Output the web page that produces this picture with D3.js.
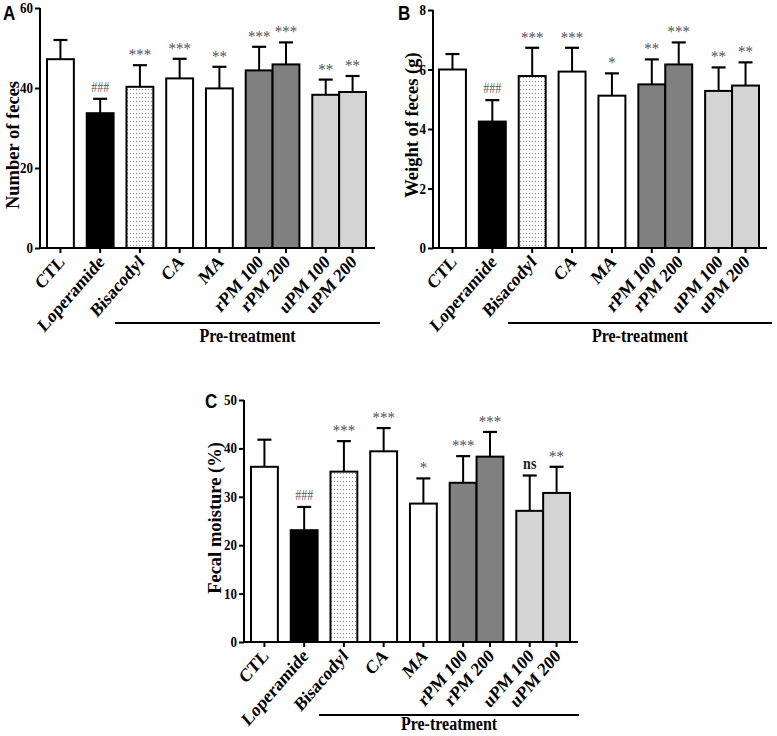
<!DOCTYPE html>
<html><head><meta charset="utf-8">
<script src="https://cdn.jsdelivr.net/npm/d3@7"></script>
<style>body{margin:0;background:#fff}</style>
</head><body><svg id="c" width="777" height="736"></svg>
<script>
// ---------- data ----------
const categories = ["CTL","Loperamide","Bisacodyl","CA","MA","rPM 100","rPM 200","uPM 100","uPM 200"];
const groupIndex = [0,1,2,3,4,5,5,6,6];

const feceNumber     = [47.2,33.7,40.3,42.4,39.9,44.4,45.9,38.3,39.0];
const feceNumberErr  = [4.8,3.6,5.4,4.9,5.4,5.9,5.5,3.8,4.0];
const feceNumberSig  = ["","###","***","***","**","***","***","**","**"];
const feceNumberTicks = [0,20,40,60];

const feceWeight     = [6.0,4.25,5.78,5.93,5.12,5.50,6.17,5.28,5.46];
const feceWeightErr  = [0.52,0.72,0.95,0.80,0.75,0.84,0.74,0.79,0.78];
const feceWeightSig  = ["","###","***","***","*","**","***","**","**"];
const feceWeightTicks = [0,2,4,6,8];

const moisture       = [36.2,23.1,35.2,39.4,28.6,32.9,38.3,27.1,30.8];
const moistureErr    = [5.6,4.8,6.3,4.8,5.2,5.5,5.1,7.3,5.4];
const moistureSig    = ["","###","***","***","*","***","***","ns","**"];
const moistureTicks  = [0,10,20,30,40,50];

const groupLabel = "Pre-treatment";

// ---------- styles ----------
const fillOf = ["#fff","#000","url(#dots)","#fff","#fff","#808080","#808080","#d4d4d4","#d4d4d4"];
const SERIF = "'Liberation Serif','Times New Roman',serif";
const SANS = "'Liberation Sans',Arial,sans-serif";
const SY = 1.15; // vertical stretch of the original figure text

const svg = d3.select("#c");
const defs = svg.append("defs");
const pat = defs.append("pattern").attr("id","dots").attr("patternUnits","userSpaceOnUse")
  .attr("width",3).attr("height",4);
pat.append("rect").attr("width",3).attr("height",4).attr("fill","#fff");
pat.append("rect").attr("x",1).attr("y",1).attr("width",1).attr("height",1).attr("fill","#888");

const panels = [
  {letter:"A", values:feceNumber, errs:feceNumberErr, sig:feceNumberSig, ticks:feceNumberTicks, ylabel:"Number of feces",
   axisX:40, yTop:8, yBottom:248, barStart:47, barEnd:366, axisEnd:375,
   lineX0:115, lineX1:380, lineY:323, textY:342, letterX:3, letterY:20, ylabX:19, ylabY:145},
  {letter:"B", values:feceWeight, errs:feceWeightErr, sig:feceWeightSig, ticks:feceWeightTicks, ylabel:"Weight of feces  (g)",
   axisX:433, yTop:10, yBottom:248, barStart:439, barEnd:759, axisEnd:767,
   lineX0:508, lineX1:772, lineY:323, textY:342, letterX:398, letterY:20, ylabX:418, ylabY:125},
  {letter:"C", values:moisture, errs:moistureErr, sig:moistureSig, ticks:moistureTicks, ylabel:"Fecal moisture (%)",
   axisX:244, yTop:400, yBottom:642, barStart:251, barEnd:570, axisEnd:578,
   lineX0:319, lineX1:579, lineY:715, textY:730, letterX:205, letterY:408, ylabX:221, ylabY:518}
];

const GAP = 0.48; // gap between groups, in bar widths
const nGroups = d3.max(groupIndex) + 1;
const totalUnits = categories.length + (nGroups - 1) * GAP;
const slotLeft = categories.map((c,i) => i + groupIndex[i] * GAP);

panels.forEach(p => {
  const g = svg.append("g");
  const ticks = p.ticks;
  const y = d3.scaleLinear().domain([0, d3.max(ticks)]).range([p.yBottom, p.yTop]);
  const x = d3.scaleLinear().domain([0, totalUnits]).range([p.barStart, p.barEnd]);
  const bw = x(1) - x(0);

  // bars
  g.selectAll("rect.bar").data(p.values).join("rect")
    .attr("x", (d,i) => x(slotLeft[i]))
    .attr("y", d => y(d))
    .attr("width", bw)
    .attr("height", d => y(0) - y(d))
    .attr("fill", (d,i) => fillOf[i])
    .attr("stroke","#000").attr("stroke-width",2);

  // error bars
  const ann = g.append("g").attr("opacity",0.995);
  p.values.forEach((v,i) => {
    const cx = x(slotLeft[i] + 0.5);
    const top = y(v + p.errs[i]);
    g.append("line").attr("x1",cx).attr("x2",cx).attr("y1",y(v)).attr("y2",top)
      .attr("stroke","#000").attr("stroke-width",2);
    g.append("line").attr("x1",cx-7).attr("x2",cx+7).attr("y1",top).attr("y2",top)
      .attr("stroke","#000").attr("stroke-width",2.2);
    if (p.sig[i]) {
      const ns = p.sig[i] === "ns";
      const star = p.sig[i][0] === "*";
      ann.append("text").attr("transform",`translate(${cx},${top-(star?5:7)}) scale(1,${SY})`)
        .attr("text-anchor","middle").attr("font-family",SERIF)
        .attr("font-size", ns ? 14 : (star ? 15 : 12)).attr("font-weight", ns ? "bold" : "normal")
        .attr("fill", ns ? "#222" : "#555").text(p.sig[i]);
    }
  });

  // y axis
  const ya = g.append("g").attr("transform",`translate(${p.axisX},0)`)
    .call(d3.axisLeft(y).tickValues(ticks).tickSize(5).tickPadding(2).tickFormat(d3.format("d")));
  ya.select(".domain").attr("stroke-width",2).attr("d",`M0,${p.yBottom}V${p.yTop}`);
  ya.selectAll(".tick line").attr("stroke-width",2);
  ya.selectAll(".tick text").attr("font-family",SERIF).attr("font-weight","bold").attr("font-size",13)
    .attr("fill","#000").attr("dy",null)
    .attr("transform", function(){ return `translate(0,4.5) scale(1,${SY})`; });

  // x axis
  g.append("line").attr("x1",p.axisX-1).attr("x2",p.axisEnd).attr("y1",p.yBottom).attr("y2",p.yBottom)
    .attr("stroke","#000").attr("stroke-width",2);
  categories.forEach((c,i) => {
    const cx = x(slotLeft[i] + 0.5);
    g.append("line").attr("x1",cx).attr("x2",cx).attr("y1",p.yBottom).attr("y2",p.yBottom+5)
      .attr("stroke","#000").attr("stroke-width",2);
    g.append("text").attr("transform",`translate(${cx+5},${p.yBottom+15}) scale(1,${SY}) rotate(-45)`)
      .attr("text-anchor","end").attr("font-family",SERIF).attr("font-weight","bold")
      .attr("font-size",16.5).text(c);
  });

  // group line & label
  g.append("line").attr("x1",p.lineX0).attr("x2",p.lineX1).attr("y1",p.lineY).attr("y2",p.lineY)
    .attr("stroke","#000").attr("stroke-width",2);
  g.append("text").attr("transform",`translate(${(p.lineX0+p.lineX1)/2},${p.textY}) scale(1,${SY})`)
    .attr("text-anchor","middle").attr("font-family",SERIF).attr("font-weight","bold")
    .attr("font-size",16).text(groupLabel);

  // y label
  g.append("text").attr("transform",`translate(${p.ylabX},${p.ylabY}) rotate(-90)`)
    .attr("text-anchor","middle").attr("font-family",SERIF).attr("font-weight","bold")
    .attr("font-size",18.5).text(p.ylabel);

  // panel letter
  g.append("text").attr("transform",`translate(${p.letterX},${p.letterY}) scale(1,${SY})`)
    .attr("font-family",SANS).attr("font-weight","bold").attr("font-size",17).text(p.letter);
});
</script></body></html>
